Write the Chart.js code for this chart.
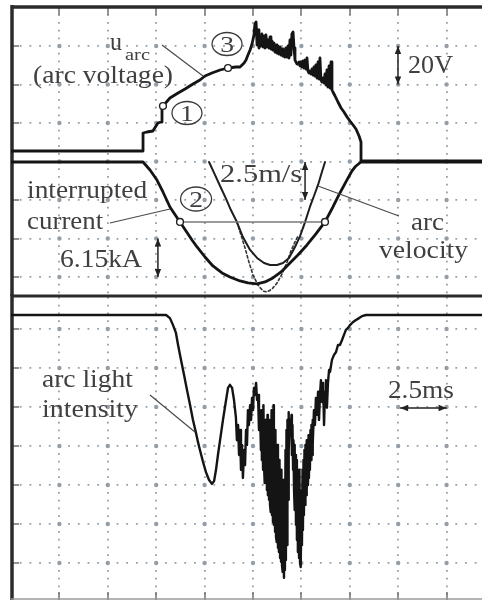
<!DOCTYPE html>
<html><head><meta charset="utf-8">
<script src="https://cdn.jsdelivr.net/npm/chart.js@4/dist/chart.umd.min.js"></script>
<style>
html,body{margin:0;padding:0;background:#fff;overflow:hidden}
#wrap{position:relative;width:482px;height:600px}
canvas{position:absolute;left:0;top:0}
</style></head>
<body><div id="wrap"><canvas id="cTop" width="482" height="600"></canvas><canvas id="cBot" width="482" height="600"></canvas></div>
<script>
// ---- time axis (ms), 2.5 ms / div ----
const timeTicks = [2.5, 5, 7.5, 10, 12.5, 15, 17.5, 20, 22.5];
const divTicks = [0, 1, 2, 3, 4, 5, 6];

// ---- arc voltage u_arc (V), 20 V / div ----
const voltT = [0, 6.82, 6.82, 7.02, 7.33, 7.49, 7.59, 7.75, 7.80, 7.85, 8.21, 8.63, 8.99, 9.40, 9.76, 10.02, 10.38, 10.80, 11.21, 11.62, 11.83,
  12.04, 12.14, 12.24, 12.35, 12.45, 12.55, 12.60, 12.66, 12.71, 12.76, 12.81, 12.86, 12.91, 12.96, 13.02, 13.07, 13.12, 13.17, 13.22, 13.27, 13.33, 13.38, 13.43, 13.48, 13.53, 13.58, 13.64, 13.69, 13.74, 13.79, 13.84, 13.90, 13.95, 14.00, 14.05, 14.10, 14.15, 14.20, 14.26, 14.31, 14.36, 14.41, 14.46, 14.51, 14.57, 14.62, 14.67, 14.72, 14.77,
  14.82, 14.88, 14.93, 14.98, 15.03, 15.08, 15.13, 15.19, 15.24, 15.29, 15.34, 15.39, 15.44, 15.50, 15.55, 15.60, 15.65, 15.70, 15.75, 15.81, 15.86, 15.91, 15.96, 16.01, 16.06, 16.12, 16.17, 16.22, 16.27, 16.32, 16.37, 16.43, 16.48, 16.53, 16.58, 16.63, 16.74,
  16.89, 17.05, 17.20, 17.36, 17.51, 17.67, 17.82, 17.98, 18.08, 18.08, 24.33];
const voltU = [0, 0, 9.35, 9.87, 10.39, 12.99, 14.55, 15.07, 22.34, 23.38, 27.53, 30.13, 32.21, 34.81, 36.88, 38.96, 40.52, 42.08, 43.12, 43.64, 43.64,
  45.72, 47.27, 49.87, 52.47, 55.59, 60.26, 65.98, 67.02, 55.07, 62.86, 53.51, 58.70, 54.55, 60.78, 54.03, 59.74, 53.51, 60.26, 54.03, 57.66, 53.51, 59.22, 52.99, 57.15, 52.47, 56.11, 51.43, 55.07, 50.91, 54.55, 50.39, 54.03, 49.87, 52.99, 49.35, 52.47, 48.83, 53.51, 48.83, 54.55, 48.31, 57.66, 49.87, 60.78, 61.82, 53.51, 47.27, 46.24, 45.20,
  45.20, 46.24, 44.16, 46.24, 43.64, 46.76, 43.12, 47.27, 42.60, 48.31, 41.56, 40.52, 41.56, 40.00, 42.60, 39.48, 43.64, 38.96, 44.68, 37.92, 46.24, 37.40, 48.31, 36.88, 35.85, 37.92, 35.33, 40.00, 34.29, 42.08, 33.25, 44.16, 32.73, 46.24, 31.69, 30.65, 28.57,
  25.46, 22.34, 20.26, 17.66, 15.59, 13.51, 11.43, 7.79, 4.68, -5.2, -5.2];
const markT = [7.85, 11.21];
const markU = [23.38, 43.12];

// ---- interrupted current (kA), 6.15 kA / div ----
const curT = [0, 6.82, 7.18, 7.54, 7.85, 8.21, 8.52, 8.73, 9.04, 9.35, 9.61, 10.02, 10.43, 10.90, 11.31, 11.83, 12.24, 12.71, 13.12, 13.53, 13.95, 14.41, 14.82, 15.29, 15.75, 16.22, 16.63, 16.99, 17.30, 17.61, 17.82, 18.08, 24.33];
const curI = [0, 0, 1.28, 2.88, 4.79, 7.19, 8.63, 9.58, 11.02, 12.46, 13.58, 15.18, 16.61, 17.73, 18.37, 19.01, 19.33, 19.49, 19.17, 18.53, 17.57, 16.13, 14.86, 13.26, 11.50, 9.58, 7.19, 4.95, 3.19, 1.44, 0.64, 0, 0];
const refT = [8.73, 16.22];
const refI = [9.58, 9.58];

// ---- arc velocity (m/s), 2.5 m/s / div ----
const velT = [10.23, 10.49, 10.80, 11.11, 11.36, 11.67, 11.98, 12.35, 12.71, 13.07, 13.38, 13.74, 14.05, 14.36, 14.67, 14.93, 15.19, 15.44, 15.65, 15.86, 16.06, 16.22];
const velV = [0, 0.71, 1.56, 2.40, 3.12, 3.90, 4.87, 5.71, 6.23, 6.56, 6.69, 6.69, 6.56, 6.23, 5.52, 4.81, 3.90, 2.92, 2.21, 1.49, 0.65, 0];
const vel2T = [11.67, 11.88, 12.09, 12.29, 12.50, 12.76, 13.02, 13.22, 13.48, 13.74, 14.00, 14.26, 14.46, 14.67, 14.82];
const vel2V = [3.90, 4.74, 5.58, 6.49, 7.34, 7.99, 8.38, 8.44, 8.25, 7.86, 7.27, 6.49, 5.78, 5.19, 4.81];

// ---- arc light intensity (div below dark level) ----
const lightT = [0, 8.01, 8.21, 8.37, 8.52, 8.63, 8.78, 8.94, 9.09, 9.25, 9.40, 9.56, 9.66, 9.76, 9.92, 10.07, 10.23, 10.38, 10.49, 10.59, 10.69, 10.80, 10.95, 11.11, 11.21, 11.31, 11.42, 11.52,
  11.62, 11.67, 11.73, 11.78, 11.83, 11.88, 11.93, 11.98, 12.04, 12.09, 12.14, 12.19, 12.24, 12.29, 12.35, 12.40, 12.45, 12.50, 12.55, 12.60, 12.66, 12.71, 12.76, 12.81, 12.86,
  12.91, 12.94, 12.96, 12.99, 13.02, 13.04, 13.07, 13.09, 13.12, 13.15, 13.17, 13.20, 13.22, 13.25, 13.27, 13.30, 13.33, 13.35, 13.38, 13.40, 13.43, 13.46, 13.48, 13.51, 13.53, 13.56, 13.58, 13.61, 13.64, 13.66, 13.69, 13.71, 13.74, 13.77, 13.79, 13.82, 13.84, 13.87, 13.90, 13.92, 13.95, 13.97, 14.00, 14.02, 14.05, 14.08, 14.10, 14.13, 14.15, 14.18, 14.20, 14.23, 14.26, 14.28, 14.31, 14.33, 14.36, 14.41,
  14.46, 14.49, 14.51, 14.54, 14.57, 14.59, 14.62, 14.64, 14.67, 14.70, 14.72, 14.75, 14.77, 14.80, 14.82, 14.85, 14.88, 14.90, 14.93, 14.95, 14.98, 15.01, 15.03, 15.06, 15.08, 15.11, 15.13, 15.16, 15.19, 15.21, 15.24, 15.26, 15.29, 15.32, 15.34, 15.37, 15.39, 15.42, 15.44, 15.47, 15.50, 15.52, 15.55, 15.57, 15.60,
  15.65, 15.70, 15.75, 15.81, 15.86, 15.91, 15.96, 16.01, 16.06, 16.12, 16.17, 16.22, 16.27, 16.32, 16.37, 16.43, 16.48,
  16.58, 16.68, 16.79, 16.89, 16.99, 17.10, 17.20, 17.30, 17.41, 17.51, 17.67, 17.82, 17.98, 18.13, 18.34, 24.33];
const lightL = [0, 0, 0.08, 0.26, 0.46, 0.77, 1.15, 1.54, 1.92, 2.31, 2.69, 3.03, 3.26, 3.46, 3.77, 4.03, 4.23, 4.33, 4.26, 3.97, 3.59, 3.21, 2.69, 2.18, 1.87, 1.79, 1.87, 2.18,
  2.64, 3.21, 2.82, 3.59, 2.95, 3.97, 3.33, 4.18, 3.46, 3.85, 2.95, 3.33, 2.44, 2.82, 2.31, 2.69, 2.13, 2.44, 1.87, 2.05, 1.74, 2.18, 2.05, 2.95, 2.44,
  3.46, 2.44, 3.72, 2.69, 3.97, 2.31, 3.85, 2.95, 4.31, 2.69, 4.23, 3.21, 4.49, 2.56, 4.62, 2.95, 4.74, 2.69, 4.87, 3.21, 5.05, 2.44, 5.13, 3.46, 5.31, 2.31, 5.38, 3.72, 5.56, 2.95, 5.69, 3.97, 5.82, 3.33, 5.97, 4.23, 6.08, 3.72, 6.23, 4.49, 6.33, 3.97, 6.44, 4.74, 6.59, 4.23, 6.74, 5.26, 6.54, 3.46, 6.28, 2.95, 5.90, 2.69, 4.74, 2.49, 3.46, 2.69,
  2.95, 2.56, 3.59, 2.82, 3.97, 3.21, 4.49, 3.33, 5.00, 3.59, 5.38, 3.72, 5.77, 3.97, 6.08, 4.23, 6.23, 3.97, 6.36, 4.49, 6.46, 4.74, 5.90, 3.97, 5.51, 3.72, 5.13, 3.46, 4.87, 3.33, 4.62, 3.21, 4.49, 3.33, 4.36, 3.08, 4.18, 3.21, 3.97, 2.95, 3.72, 2.82, 3.59, 2.69, 3.33,
  2.44, 2.82, 2.13, 2.56, 1.97, 2.69, 2.05, 1.67, 2.23, 1.74, 2.82, 1.97, 1.67, 2.38, 1.77, 1.41, 1.46,
  1.15, 1.03, 0.95, 0.77, 0.77, 0.64, 0.51, 0.38, 0.33, 0.26, 0.18, 0.13, 0.08, 0.03, 0, 0];

// ---------------- styling ----------------
const GRID = '#959ea6';
const INK = '#141414';
const TXT = '#404040';
const FONT = '"Liberation Serif", "DejaVu Serif", serif';
const pts = (xs, ys) => xs.map((x, i) => ({x, y: ys[i]}));

function drawText(ctx, txt, x, y, w, size) {
  ctx.save();
  ctx.font = size + 'px ' + FONT;
  ctx.fillStyle = TXT;
  ctx.textBaseline = 'alphabetic';
  const m = ctx.measureText(txt).width;
  ctx.translate(x, y);
  ctx.scale(w / m, 1);
  ctx.fillText(txt, 0, 0);
  ctx.restore();
}
function arrowHead(ctx, x, y, ang) {
  const L = 8, W = 3.2;
  ctx.beginPath();
  ctx.moveTo(x, y);
  ctx.lineTo(x - L * Math.cos(ang) + W * Math.sin(ang), y - L * Math.sin(ang) - W * Math.cos(ang));
  ctx.lineTo(x - L * Math.cos(ang) - W * Math.sin(ang), y - L * Math.sin(ang) + W * Math.cos(ang));
  ctx.closePath();
  ctx.fill();
}
function dblArrow(ctx, x1, y1, x2, y2) {
  ctx.save();
  ctx.strokeStyle = '#222'; ctx.fillStyle = '#222'; ctx.lineWidth = 1.5;
  ctx.beginPath(); ctx.moveTo(x1, y1); ctx.lineTo(x2, y2); ctx.stroke();
  const a = Math.atan2(y2 - y1, x2 - x1);
  arrowHead(ctx, x2, y2, a);
  arrowHead(ctx, x1, y1, a + Math.PI);
  ctx.restore();
}

const framePlugin = {
  id: 'frame',
  beforeDatasetsDraw(chart, args, o) {
    const {ctx, chartArea: a, scales} = chart;
    const xs = scales.x, yg = scales[o.grid];
    ctx.save();
    ctx.fillStyle = GRID;
    for (const tx of timeTicks) for (const ty of divTicks) {
      ctx.beginPath();
      ctx.arc(xs.getPixelForValue(tx), yg.getPixelForValue(ty), 2.2, 0, 2 * Math.PI);
      ctx.fill();
    }
    ctx.strokeStyle = '#707070'; ctx.lineWidth = 1.5;
    for (const tx of timeTicks) {
      const px = Math.round(xs.getPixelForValue(tx));
      if (o.topTicks) { ctx.beginPath(); ctx.moveTo(px, a.top); ctx.lineTo(px, a.top + 8); ctx.stroke(); }
      if (o.bottomTicks) { ctx.beginPath(); ctx.moveTo(px, a.bottom); ctx.lineTo(px, a.bottom - 8); ctx.stroke(); }
    }
    for (const ty of divTicks) {
      const py = Math.round(yg.getPixelForValue(ty));
      ctx.beginPath(); ctx.moveTo(a.left, py); ctx.lineTo(a.left + 8, py); ctx.stroke();
    }
    ctx.strokeStyle = '#2b2b2b';
    ctx.lineWidth = 3.5;
    ctx.beginPath(); ctx.moveTo(a.left + 1, a.top - 2); ctx.lineTo(a.left + 1, a.bottom); ctx.stroke();
    ctx.lineWidth = o.topWidth;
    ctx.beginPath(); ctx.moveTo(a.left, a.top); ctx.lineTo(a.right, a.top); ctx.stroke();
    if (o.bottomLine) {
      ctx.strokeStyle = '#9a9a9a'; ctx.lineWidth = 1.5;
      ctx.beginPath(); ctx.moveTo(a.left, a.bottom - 1); ctx.lineTo(a.right, a.bottom - 1); ctx.stroke();
    }
    ctx.restore();
  }
};

const notesPlugin = {
  id: 'notes',
  afterDatasetsDraw(chart, args, o) {
    const {ctx, scales} = chart;
    const X = v => scales.x.getPixelForValue(v);
    const Y = v => scales[o.grid].getPixelForValue(v);
    ctx.save();
    ctx.strokeStyle = '#4a4a4a'; ctx.lineWidth = 1.2;
    for (const l of o.leaders) {
      ctx.beginPath(); ctx.moveTo(X(l[0]), Y(l[1])); ctx.lineTo(X(l[2]), Y(l[3])); ctx.stroke();
    }
    for (const c of o.circles) {
      const cx = X(c.x), cy = Y(c.y);
      ctx.beginPath(); ctx.ellipse(cx, cy, c.rx, c.ry, 0, 0, 2 * Math.PI);
      ctx.strokeStyle = '#3a3a3a'; ctx.lineWidth = 1.3; ctx.stroke();
      ctx.save();
      ctx.font = '23px ' + FONT; ctx.fillStyle = TXT; ctx.textAlign = 'center'; ctx.textBaseline = 'alphabetic';
      ctx.translate(cx, cy + 8); ctx.scale(1.2, 1); ctx.fillText(c.n, 0, 0);
      ctx.restore();
    }
    for (const ar of o.arrows) dblArrow(ctx, X(ar[0]), Y(ar[1]), X(ar[2]), Y(ar[3]));
    for (const t of o.texts) drawText(ctx, t.t, X(t.x), Y(t.y), t.w * (X(1) - X(0)), t.size || 25);
    ctx.restore();
  }
};

function xScale(dash, offset) {
  return {
    type: 'linear', min: 0, max: 24.33, position: 'bottom',
    afterBuildTicks: s => { s.ticks = timeTicks.map(v => ({value: v})); },
    ticks: {display: false},
    grid: {color: GRID, lineWidth: 1.8, drawTicks: false},
    border: {display: false, dash: dash, dashOffset: offset}
  };
}
function gridY(min, max) {
  return {
    type: 'linear', min, max, position: 'left',
    afterBuildTicks: s => { s.ticks = divTicks.map(v => ({value: v})); },
    ticks: {display: false},
    grid: {color: GRID, lineWidth: 1.8, drawTicks: false},
    border: {display: false, dash: [1.8, 7.88], dashOffset: 0.9}
  };
}
const common = {
  responsive: false, animation: false, events: [],
  plugins: {legend: {display: false}, tooltip: {enabled: false}},
  elements: {line: {tension: 0, borderJoinStyle: 'round', borderCapStyle: 'round'}, point: {radius: 0}}
};
const markerStyle = {pointRadius: 3.4, pointBackgroundColor: '#fff', pointBorderColor: '#222', pointBorderWidth: 1.4};

new Chart(document.getElementById('cTop'), {
  type: 'line',
  data: {datasets: [
    Object.assign({label: 'markers', data: pts(markT, markU), yAxisID: 'yV', showLine: false}, markerStyle),
    Object.assign({label: 'ref', data: pts(refT, refI), yAxisID: 'yI', borderColor: '#7a7a7a', borderWidth: 1.5}, markerStyle),
    {label: 'u_arc', data: pts(voltT, voltU), yAxisID: 'yV', borderColor: INK, borderWidth: 2.8, pointRadius: 0},
    {label: 'current', data: pts(curT, curI), yAxisID: 'yI', borderColor: INK, borderWidth: 2.8, pointRadius: 0},
    {label: 'velocity', data: pts(velT, velV), yAxisID: 'yS', borderColor: '#1e1e1e', borderWidth: 2, pointRadius: 0},
    {label: 'velocity2', data: pts(vel2T, vel2V), yAxisID: 'yS', borderColor: '#333', borderWidth: 1.6, borderDash: [2.5, 2.5], pointRadius: 0}
  ]},
  options: Object.assign({}, common, {
    layout: {padding: {left: 11, top: 7, right: 0, bottom: 304}, autoPadding: false},
    scales: {
      x: xScale([1.8, 5.9], 0.4),
      yDiv: gridY(-0.4935, 7.013),
      yV: {display: false, min: -75.33, max: 74.81},
      yI: {display: false, reverse: true, min: -24.76, max: 21.41},
      yS: {display: false, reverse: true, min: -10.06, max: 8.70}
    },
    plugins: Object.assign({}, common.plugins, {
      frame: {grid: 'yDiv', topTicks: true, bottomTicks: false, topWidth: 3.5, bottomLine: false},
      notes: {
        grid: 'yDiv',
        leaders: [[7.80, 6.026, 9.92, 5.221], [5.11, 1.403, 8.21, 1.766], [15.86, 2.364, 20.04, 1.584]],
        circles: [{n: '1', x: 9.09, y: 4.26, rx: 15, ry: 11.5}, {n: '2', x: 9.56, y: 2.026, rx: 15.5, ry: 12}, {n: '3', x: 11.16, y: 6.052, rx: 15, ry: 11.5}],
        arrows: [[19.99, 6, 19.99, 5], [7.59, 1, 7.59, 0], [15.19, 2.987, 15.19, 2.0]],
        texts: [
          {t: 'u', x: 5.11, y: 5.896, w: 0.62},
          {t: 'arc', x: 5.89, y: 5.636, w: 1.29, size: 16},
          {t: '(arc voltage)', x: 1.14, y: 5.039, w: 7.23},
          {t: 'interrupted', x: 0.83, y: 2.052, w: 6.20},
          {t: 'current', x: 0.83, y: 1.247, w: 3.93},
          {t: '6.15kA', x: 2.53, y: 0.26, w: 4.24},
          {t: '2.5m/s', x: 10.80, y: 2.468, w: 4.24},
          {t: 'arc', x: 20.66, y: 1.221, w: 1.70},
          {t: 'velocity', x: 19.01, y: 0.494, w: 4.60},
          {t: '20V', x: 20.51, y: 5.299, w: 2.32}
        ]
      }
    })
  }),
  plugins: [framePlugin, notesPlugin]
});

new Chart(document.getElementById('cBot'), {
  type: 'line',
  data: {datasets: [
    {label: 'arc light intensity', data: pts(lightT, lightL), yAxisID: 'yL', borderColor: INK, borderWidth: 2.4, pointRadius: 0}
  ]},
  options: Object.assign({}, common, {
    layout: {padding: {left: 11, top: 296, right: 0, bottom: 0}, autoPadding: false},
    scales: {
      x: xScale([1.8, 6.0], -0.9),
      yDivB: gridY(-0.949, 6.846),
      yL: {display: false, reverse: true, min: -0.487, max: 7.308}
    },
    plugins: Object.assign({}, common.plugins, {
      frame: {grid: 'yDivB', topTicks: false, bottomTicks: true, topWidth: 2.8, bottomLine: true},
      notes: {
        grid: 'yDivB',
        leaders: [[7.18, 4.308, 9.50, 3.359]],
        circles: [],
        arrows: [[20.1, 3.974, 22.5, 3.974]],
        texts: [
          {t: 'arc light', x: 1.60, y: 4.513, w: 4.70},
          {t: 'intensity', x: 1.60, y: 3.744, w: 4.96},
          {t: '2.5ms', x: 19.47, y: 4.231, w: 3.41}
        ]
      }
    })
  }),
  plugins: [framePlugin, notesPlugin]
});
</script>
</body></html>
